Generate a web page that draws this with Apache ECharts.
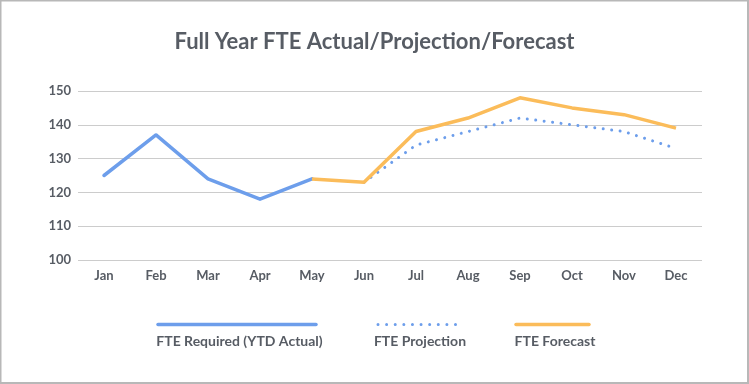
<!DOCTYPE html>
<html>
<head>
<meta charset="utf-8">
<script src="https://cdn.jsdelivr.net/npm/echarts@6/dist/echarts.min.js"></script>
<style>
html,body{margin:0;padding:0;background:#fff;}
#c{width:749px;height:384px;}
</style>
</head>
<body>
<div id="c"></div>
<script>
const titleText = 'Full Year FTE Actual/Projection/Forecast';
const months = ['Jan','Feb','Mar','Apr','May','Jun','Jul','Aug','Sep','Oct','Nov','Dec'];
const actualName = 'FTE Required (YTD Actual)';
const projectionName = 'FTE Projection';
const forecastName = 'FTE Forecast';
const actualValues = [125, 137, 124, 118, 124, null, null, null, null, null, null, null];
const projectionValues = [null, null, null, null, null, 123, 134, 138, 142, 140, 138, 133];
const forecastValues = [null, null, null, null, 124, 123, 138, 142, 148, 145, 143, 139];
const yTicks = [100, 110, 120, 130, 140, 150];

const BLUE = '#6d9eeb';
const ORANGE = '#fbbc5a';
const TXT = '#575c64';
const FONT = 'Lato';

const chart = echarts.init(document.getElementById('c'), null, {renderer: 'canvas'});

function legendItem(x1, x2, y, tx, name, style) {
  return [
    {type: 'line', shape: {x1: x1, y1: y, x2: x2, y2: y}, style: style, silent: true},
    {type: 'text', x: tx, y: 341, style: {text: name, fill: TXT, font: 'bold 14px ' + FONT, textAlign: 'center', textVerticalAlign: 'middle'}, silent: true}
  ];
}

const option = {
  backgroundColor: '#fff',
  animation: false,
  title: {
    text: titleText,
    left: 'center',
    top: 26,
    textStyle: {fontFamily: FONT, fontSize: 22, fontWeight: 'bold', color: TXT}
  },
  grid: {left: 78, right: 47, top: 91, bottom: 124, containLabel: false},
  xAxis: {
    type: 'category',
    data: months,
    boundaryGap: true,
    axisLine: {show: false},
    axisTick: {show: false},
    axisLabel: {fontFamily: FONT, fontSize: 13, fontWeight: 'bold', color: TXT, margin: 9}
  },
  yAxis: {
    type: 'value',
    min: yTicks[0],
    max: yTicks[yTicks.length - 1],
    interval: yTicks[1] - yTicks[0],
    axisLine: {show: false},
    axisTick: {show: false},
    axisLabel: {fontFamily: FONT, fontSize: 13, fontWeight: 'bold', color: TXT, margin: 7},
    splitLine: {lineStyle: {color: '#cccccc', width: 1}}
  },
  series: [
    {
      name: actualName, type: 'line', data: actualValues, showSymbol: false, symbol: 'none',
      lineStyle: {color: BLUE, width: 3.5, cap: 'round', join: 'round'}, z: 2
    },
    {
      name: projectionName, type: 'line', data: projectionValues, showSymbol: false, symbol: 'none',
      lineStyle: {color: BLUE, width: 3, type: [0.01, 8.5], cap: 'round'}, z: 3
    },
    {
      name: forecastName, type: 'line', data: forecastValues, showSymbol: false, symbol: 'none',
      lineStyle: {color: ORANGE, width: 3.5, cap: 'butt', join: 'round'}, z: 4
    }
  ],
  graphic: [
    {type: 'rect', shape: {x: 0.5, y: 0.5, width: 747.5, height: 382.5}, style: {fill: 'none', stroke: '#b8b8b8', lineWidth: 2}, silent: true},
    ...legendItem(158, 316, 324.5, 239.5, actualName, {stroke: BLUE, lineWidth: 3.5, lineCap: 'round'}),
    ...legendItem(378, 457, 324.5, 420, projectionName, {stroke: BLUE, lineWidth: 3, lineDash: [0.01, 8.6], lineCap: 'round'}),
    ...legendItem(516, 589, 324.5, 555, forecastName, {stroke: ORANGE, lineWidth: 3.5, lineCap: 'round'})
  ]
};
chart.setOption(option);
</script>
</body>
</html>
